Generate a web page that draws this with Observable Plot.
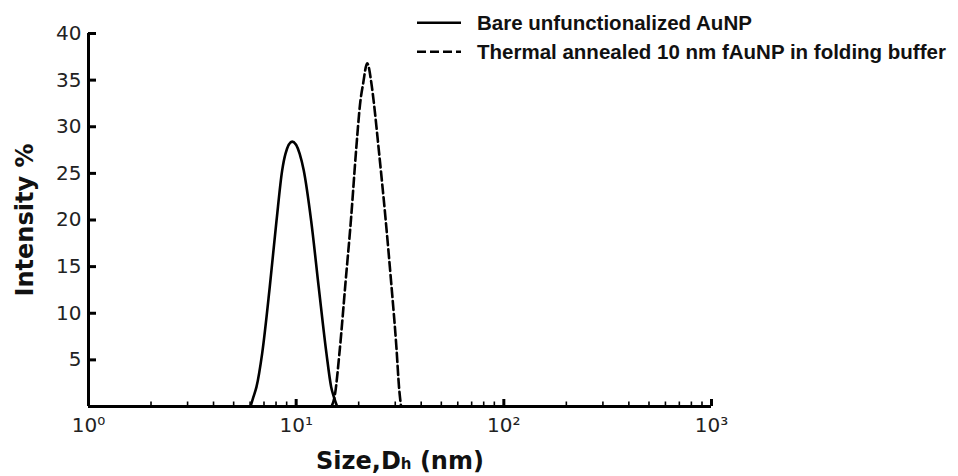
<!DOCTYPE html>
<html>
<head>
<meta charset="utf-8">
<script src="https://cdn.jsdelivr.net/npm/d3@7"></script>
<script src="https://cdn.jsdelivr.net/npm/@observablehq/plot@0.6"></script>
<style>
  html, body { margin: 0; padding: 0; background: #fff; }
  #wrap { position: relative; width: 958px; height: 476px; }
  #legend { position: absolute; left: 0; top: 0; pointer-events: none; }
</style>
</head>
<body>
<div id="wrap"></div>
<script>
// ---- data ----
const seriesNames = ["Bare unfunctionalized AuNP", "Thermal annealed 10 nm fAuNP in folding buffer"];

const bareSize      = [6.03, 6.22, 6.44, 6.86, 7.46, 8.04, 8.56, 8.88, 9.57, 10.4, 10.88, 11.81, 12.84, 13.99, 14.74, 15.2, 15.75];
const bareIntensity = [0,    1.0,  2.1,  5.7,  12.8, 19.9, 25.3, 27.1, 28.4, 27.1, 25.3,  19.9,  12.8,  5.7,   2.1,   1.0,  0];

const annealSize      = [14.8, 15.3, 16.2, 17.27, 18.4, 19.44, 20.4, 21.0, 21.98, 23.05, 23.6, 25.0, 26.9, 28.7, 30.4, 31.3, 32.0];
const annealIntensity = [0,    1.0,  6.0,  13.2,  20.3, 27.5,  32.8, 34.6, 36.8,  34.6,  32.8, 27.5, 20.3, 13.2, 6.3,  2.0,  0];

const yTicks = [5, 10, 15, 20, 25, 30, 35, 40];
const xMajor = [1, 10, 100, 1000];
const xMajorLabels = ["10\u2070", "10\u00B9", "10\u00B2", "10\u00B3"];
const xMinor = [2,3,4,5,6,7,8,9,20,30,40,50,60,70,80,90,200,300,400,500,600,700,800,900];

// ---- tables ----
const bare = bareSize.map((s, i) => ({size: s, intensity: bareIntensity[i]}));
const anneal = annealSize.map((s, i) => ({size: s, intensity: annealIntensity[i]}));

const chart = Plot.plot({
  width: 958,
  height: 476,
  marginLeft: 88,
  marginRight: 247,
  marginTop: 33,
  marginBottom: 70,
  style: {fontFamily: "DejaVu Sans", fontSize: "20px", color: "#222", background: "#fff", overflow: "visible"},
  x: {type: "log", domain: [1, 1000]},
  y: {domain: [0, 40]},
  marks: [
    Plot.line(bare, {x: "size", y: "intensity", curve: "monotone-x", stroke: "#000", strokeWidth: 2.6}),
    Plot.line(anneal, {x: "size", y: "intensity", curve: "monotone-x", stroke: "#000", strokeWidth: 2.6, strokeDasharray: "9,4"}),
    // spines
    Plot.ruleX([1], {y1: 0, y2: 40, stroke: "#000", strokeWidth: 3}),
    Plot.ruleY([0], {x1: 1, x2: 1000, stroke: "#000", strokeWidth: 3}),
    // y ticks (inward) and labels
    Plot.axisY({ticks: yTicks, tickSize: 8, dx: 8, text: null, label: null, stroke: "#000", strokeWidth: 3}),
    Plot.axisY({ticks: yTicks, tickSize: 0, tickPadding: 7, label: null, fontSize: 20, fill: "#222"}),
    // x ticks (inward) and labels
    Plot.axisX({ticks: xMajor, tickSize: 7, dy: -7, text: null, label: null, stroke: "#000", strokeWidth: 3}),
    Plot.axisX({ticks: xMinor, tickSize: 4.5, dy: -4.5, text: null, label: null, stroke: "#000", strokeWidth: 1.6}),
    Plot.axisX({ticks: xMajor, tickSize: 0, tickPadding: 11, label: null, fontSize: 20, fill: "#222",
                tickFormat: d => xMajorLabels[xMajor.indexOf(d)]}),
    // axis titles
    Plot.text(["Intensity %"], {frameAnchor: "left", textAnchor: "middle", lineAnchor: "middle", dx: -63, rotate: -90, fontSize: 24, fontWeight: "bold", fill: "#111", fontFamily: "DejaVu Sans"}),
    Plot.text(["Size,D|h| (nm)"], {frameAnchor: "bottom", lineAnchor: "middle", dy: 55, fontSize: 24, fontWeight: "bold", fill: "#111", fontFamily: "DejaVu Sans", className: "xtitle"})
  ]
});

document.getElementById("wrap").appendChild(chart);

// rebuild x title with a small "h"
d3.select(chart).selectAll(".xtitle text").each(function() {
  const t = d3.select(this);
  const parts = t.text().split("|");
  t.text(null);
  t.append("tspan").text(parts[0]);
  t.append("tspan").attr("font-size", 15).text(parts[1]);
  t.append("tspan").text(parts[2]);
});

// legend overlay
const leg = d3.select("#wrap").append("svg")
  .attr("id", "legend").attr("width", 958).attr("height", 80);
const rows = [
  {name: seriesNames[0], dash: null, y: 22.7},
  {name: seriesNames[1], dash: "9,4", y: 51.7}
];
rows.forEach(r => {
  leg.append("line").attr("x1", 417).attr("x2", 461).attr("y1", r.y).attr("y2", r.y)
    .attr("stroke", "#000").attr("stroke-width", 2.6).attr("stroke-dasharray", r.dash);
  leg.append("text").attr("x", 477).attr("y", r.y + 7.3)
    .attr("font-family", "'Liberation Sans', Arial, sans-serif").attr("font-weight", "bold")
    .attr("font-size", 20.5).attr("fill", "#111").text(r.name);
});
</script>
</body>
</html>
